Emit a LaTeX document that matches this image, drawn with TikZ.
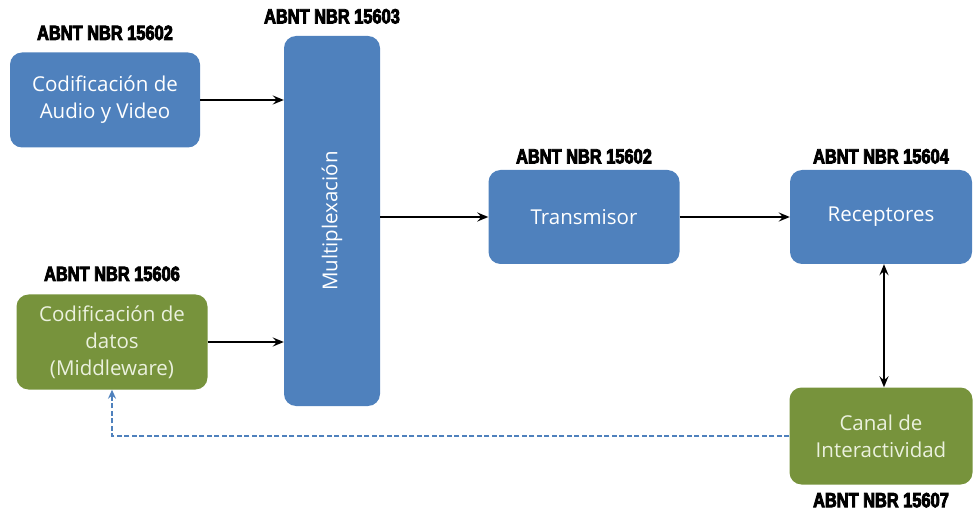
\documentclass[tikz,border=0pt]{standalone}
\usepackage{fontspec}
\setmainfont{Open Sans}
\newfontfamily\stdfont[FakeStretch=0.8,FakeBold=4]{Liberation Sans Bold}
\usetikzlibrary{positioning,arrows.meta}
\definecolor{boxblue}{HTML}{4F81BD}
\definecolor{boxgreen}{HTML}{77933C}
\definecolor{greentext}{HTML}{EBF1DE}
\begin{document}
\begin{tikzpicture}[
        x=1pt, y=-1pt,
        box/.style={rounded corners=12pt, align=center, inner sep=0pt,
            font=\fontsize{20.5}{27}\selectfont},
        blue/.style={box, fill=boxblue, text=white},
        green/.style={box, fill=boxgreen, text=greentext},
        stdlabel/.style={font=\stdfont\fontsize{20.5}{21}\selectfont, inner sep=0pt},
        arrow/.style={-{Stealth[length=11pt,width=9pt,inset=4pt]}, line width=1.8pt},
        feedback/.style={-{Stealth[length=9pt,width=8pt,inset=3pt]}, line width=1.6pt, boxblue, dash pattern=on 5pt off 2.5pt}
    ]
    \useasboundingbox (0,0) rectangle (975,513);

    % Blocks
    \node[blue, minimum width=190pt, minimum height=95pt] (audio) at (105,100) {Codificación de\\Audio y Video};
    \node[blue, minimum width=96pt, minimum height=370pt] (mux) at (332,221) {};
    \node[rotate=90, text=white, font=\fontsize{20.5}{27}\selectfont] (muxtext) at (mux.center) {Multiplexación};
    \node[green, minimum width=191pt, minimum height=95pt] (datos) at (112,342) {Codificación de\\datos\\(Middleware)};
    \node[blue, minimum width=191pt, minimum height=94pt] (tx) at (584,217) {Transmisor};
    \node[blue, minimum width=182pt, minimum height=94pt] (rx) at (881,217) {Receptores};
    \node[green, minimum width=183pt, minimum height=97pt] (canal) at (881,436) {Canal de\\Interactividad};

    % Standards
    \node[stdlabel, above=12pt of audio] (audiostd) {ABNT NBR 15602};
    \node[stdlabel, above=12pt of mux] (muxstd) {ABNT NBR 15603};
    \node[stdlabel, above=13pt of datos] (datosstd) {ABNT NBR 15606};
    \node[stdlabel, above=6pt of tx] (txstd) {ABNT NBR 15602};
    \node[stdlabel, above=6pt of rx] (rxstd) {ABNT NBR 15604};
    \node[stdlabel, below=8pt of canal] (canalstd) {ABNT NBR 15607};

    % Connections
    \draw[arrow] (audio.east) -- (audio.east -| mux.west);
    \draw[arrow] (datos.east) -- (datos.east -| mux.west);
    \draw[arrow] (mux.east |- tx.west) -- (tx.west);
    \draw[arrow] (tx.east) -- (rx.west);
    \draw[arrow, {Stealth[length=11pt,width=9pt,inset=4pt]}-{Stealth[length=11pt,width=9pt,inset=4pt]}] (rx.south -| 884,0) -- (canal.north -| 884,0);
    \draw[feedback] (canal.west) -| (datos.south);
\end{tikzpicture}
\end{document}
